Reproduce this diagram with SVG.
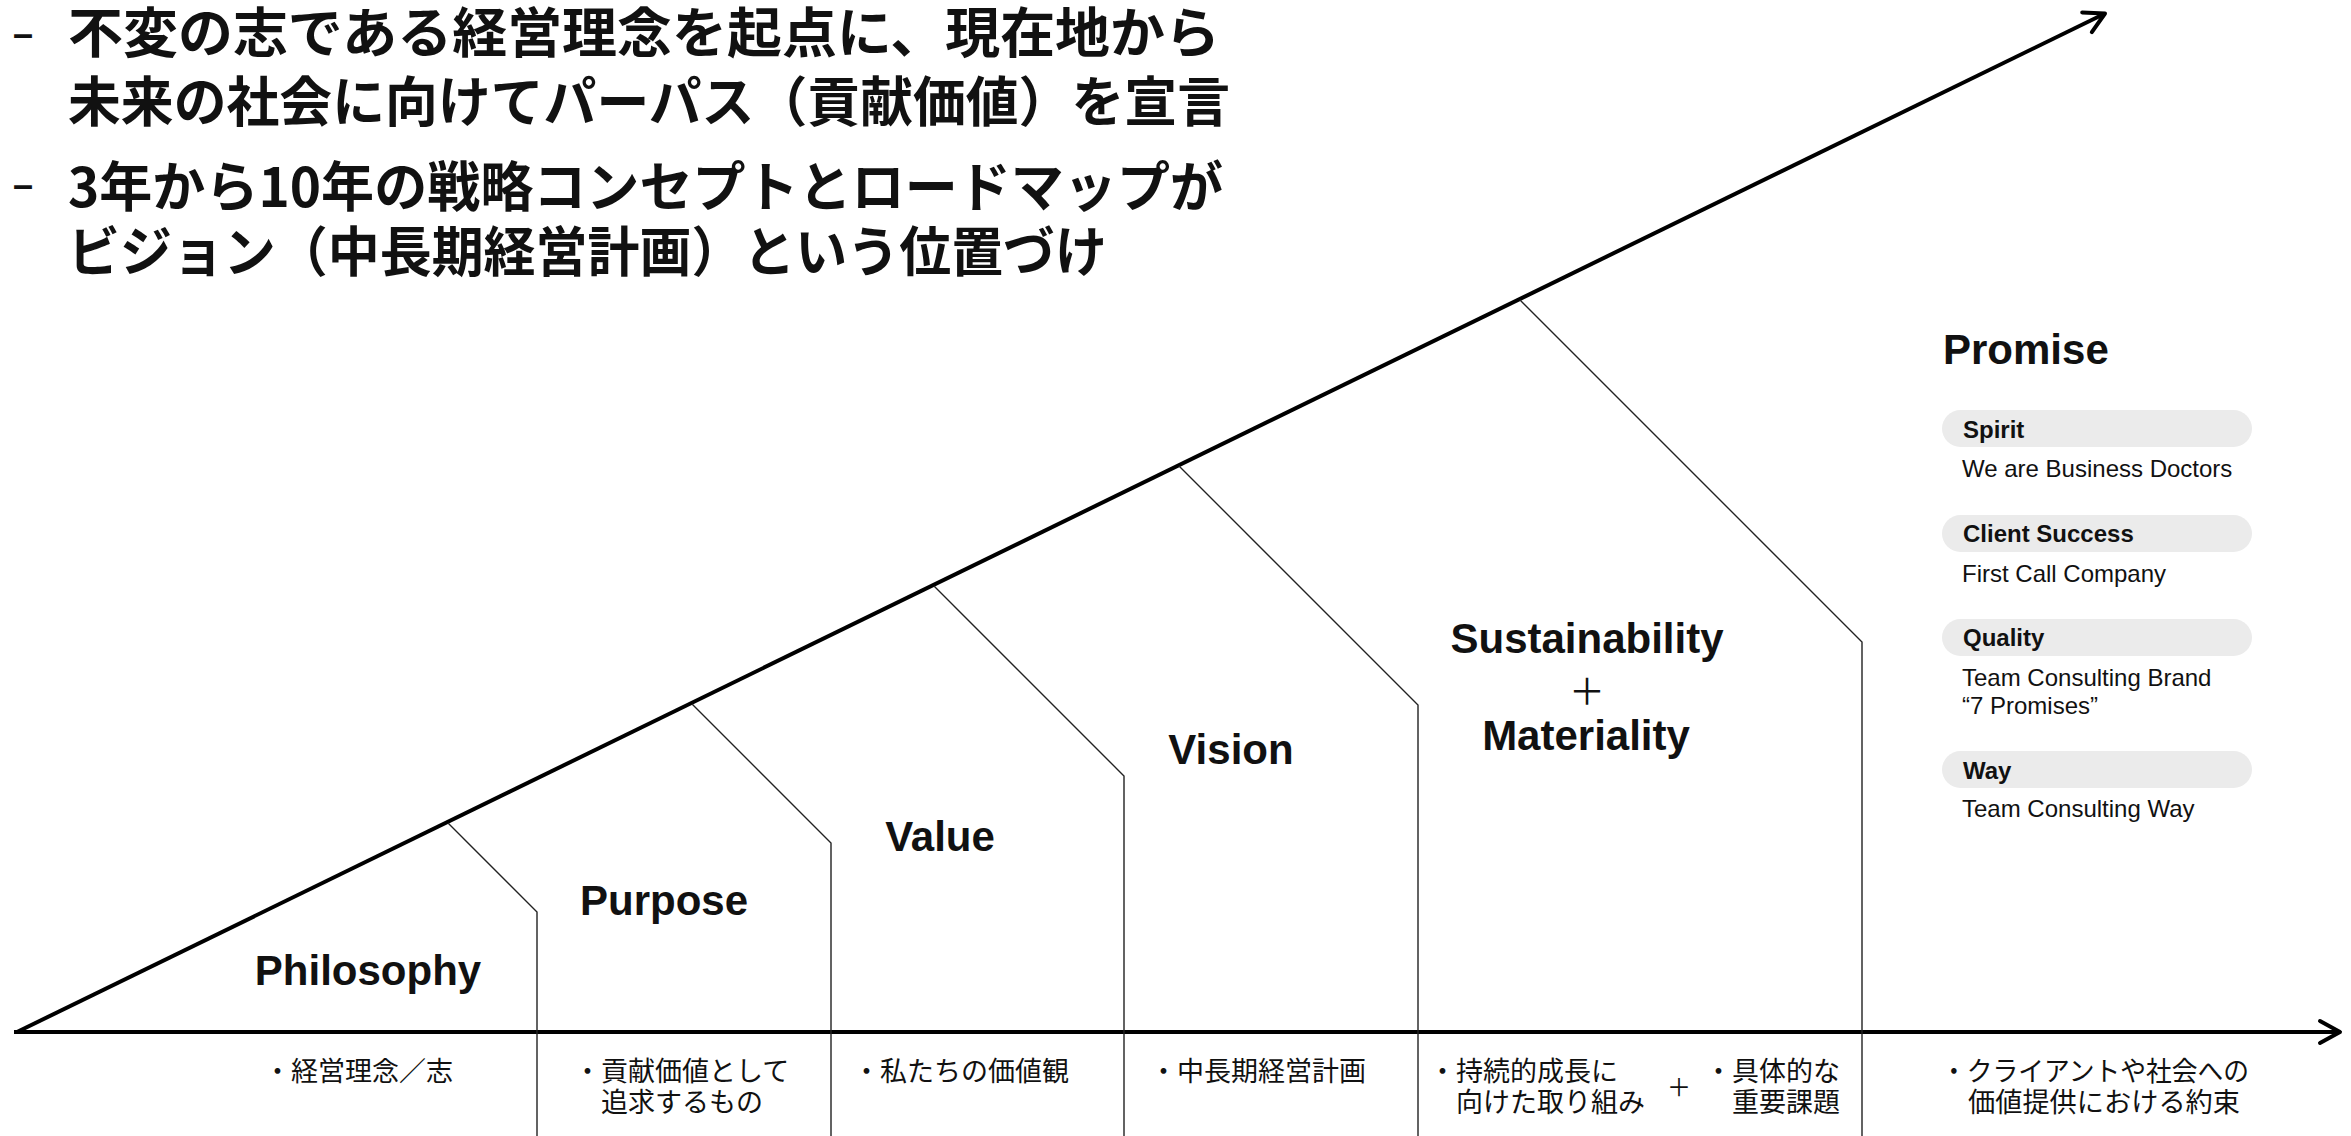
<svg xmlns="http://www.w3.org/2000/svg" width="2351" height="1136" viewBox="0 0 2351 1136">
<defs>
<style>
.hd{font-family:"Noto Sans CJK JP","Noto Sans CJK SC",sans-serif;font-weight:700;font-size:54px;fill:#111}
.dash{font-family:"Liberation Sans",Arial,sans-serif;font-weight:700;font-size:36px;fill:#111}
.lbl{font-family:"Liberation Sans",Arial,sans-serif;font-weight:700;font-size:42px;fill:#111;text-anchor:middle}
.jp{font-family:"Noto Sans CJK JP","Noto Sans CJK SC",sans-serif;font-size:27px;fill:#111}
.plus{font-family:"Noto Sans CJK JP","Noto Sans CJK SC",sans-serif;fill:#111;text-anchor:middle}
.pill{fill:#ebebeb}
.pt{font-family:"Liberation Sans",Arial,sans-serif;font-weight:700;font-size:24px;fill:#111}
.pd{font-family:"Liberation Sans",Arial,sans-serif;font-size:24px;fill:#111}
.thick{stroke:#000;stroke-width:4;fill:none}
.thin{stroke:#222;stroke-width:1.4;fill:none}
</style>
<marker id="chev" markerUnits="userSpaceOnUse" markerWidth="40" markerHeight="40" viewBox="-30 -20 40 40" refX="0" refY="0" orient="auto" overflow="visible">
<path d="M-20,-11 L0,0 L-20,11" fill="none" stroke="#000" stroke-width="4" stroke-linecap="round" stroke-linejoin="round"/>
</marker>
</defs>
<rect width="2351" height="1136" fill="#fff"/>

<g id="header">
<text class="dash" x="13" y="46">–</text>
<text class="hd" x="68" y="53" textLength="1152" lengthAdjust="spacingAndGlyphs">不変の志である経営理念を起点に、現在地から</text>
<text class="hd" x="68" y="122" textLength="1162" lengthAdjust="spacingAndGlyphs">未来の社会に向けてパーパス（貢献価値）を宣言</text>
<text class="dash" x="13" y="197">–</text>
<text class="hd" x="68" y="207" textLength="1155" lengthAdjust="spacingAndGlyphs">3年から10年の戦略コンセプトとロードマップが</text>
<text class="hd" x="68" y="272" textLength="1039" lengthAdjust="spacingAndGlyphs">ビジョン（中長期経営計画）という位置づけ</text>
</g>

<g id="connectors">
<line class="thick" x1="14" y1="1032" x2="2340" y2="1032" marker-end="url(#chev)"/>
<line class="thick" x1="17" y1="1032" x2="2105" y2="13.5" marker-end="url(#chev)"/>
<polyline class="thin" points="448,823 537,912 537,1136"/>
<polyline class="thin" points="692,704 831,843 831,1136"/>
<polyline class="thin" points="934,586 1124,776 1124,1136"/>
<polyline class="thin" points="1179,466 1418,705 1418,1136"/>
<polyline class="thin" points="1520,300 1862,642 1862,1136"/>
</g>

<g id="philosophy">
<text class="lbl" x="368" y="985">Philosophy</text>
<text class="jp" x="264" y="1081">・経営理念／志</text>
</g>

<g id="purpose">
<text class="lbl" x="664" y="915">Purpose</text>
<text class="jp" x="574" y="1081">・貢献価値として</text>
<text class="jp" x="601" y="1112">追求するもの</text>
</g>

<g id="value">
<text class="lbl" x="940" y="851">Value</text>
<text class="jp" x="853" y="1081">・私たちの価値観</text>
</g>

<g id="vision">
<text class="lbl" x="1231" y="764">Vision</text>
<text class="jp" x="1150" y="1081">・中長期経営計画</text>
</g>

<g id="sustainability">
<text class="lbl" x="1587" y="653">Sustainability</text>
<text class="plus" x="1587" y="705" font-size="36">＋</text>
<text class="lbl" x="1586" y="750">Materiality</text>
<text class="jp" x="1429" y="1081">・持続的成長に</text>
<text class="jp" x="1456" y="1112">向けた取り組み</text>
<text class="plus" x="1679" y="1096" font-size="24">＋</text>
<text class="jp" x="1705" y="1081">・具体的な</text>
<text class="jp" x="1732" y="1112">重要課題</text>
</g>

<g id="promise">
<text class="lbl" x="1943" y="364" style="text-anchor:start">Promise</text>
<g id="spirit">
<rect class="pill" x="1942" y="410" width="310" height="37" rx="18.5"/>
<text class="pt" x="1963" y="438">Spirit</text>
<text class="pd" x="1962" y="477">We are Business Doctors</text>
</g>
<g id="client-success">
<rect class="pill" x="1942" y="515" width="310" height="37" rx="18.5"/>
<text class="pt" x="1963" y="542">Client Success</text>
<text class="pd" x="1962" y="582">First Call Company</text>
</g>
<g id="quality">
<rect class="pill" x="1942" y="619" width="310" height="37" rx="18.5"/>
<text class="pt" x="1963" y="646">Quality</text>
<text class="pd" x="1962" y="686">Team Consulting Brand</text>
<text class="pd" x="1962" y="714">“7 Promises”</text>
</g>
<g id="way">
<rect class="pill" x="1942" y="751" width="310" height="37" rx="18.5"/>
<text class="pt" x="1963" y="779">Way</text>
<text class="pd" x="1962" y="817">Team Consulting Way</text>
</g>
<text class="jp" x="1941" y="1081" textLength="308" lengthAdjust="spacingAndGlyphs">・クライアントや社会への</text>
<text class="jp" x="1968" y="1112" textLength="272" lengthAdjust="spacingAndGlyphs">価値提供における約束</text>
</g>
</svg>
